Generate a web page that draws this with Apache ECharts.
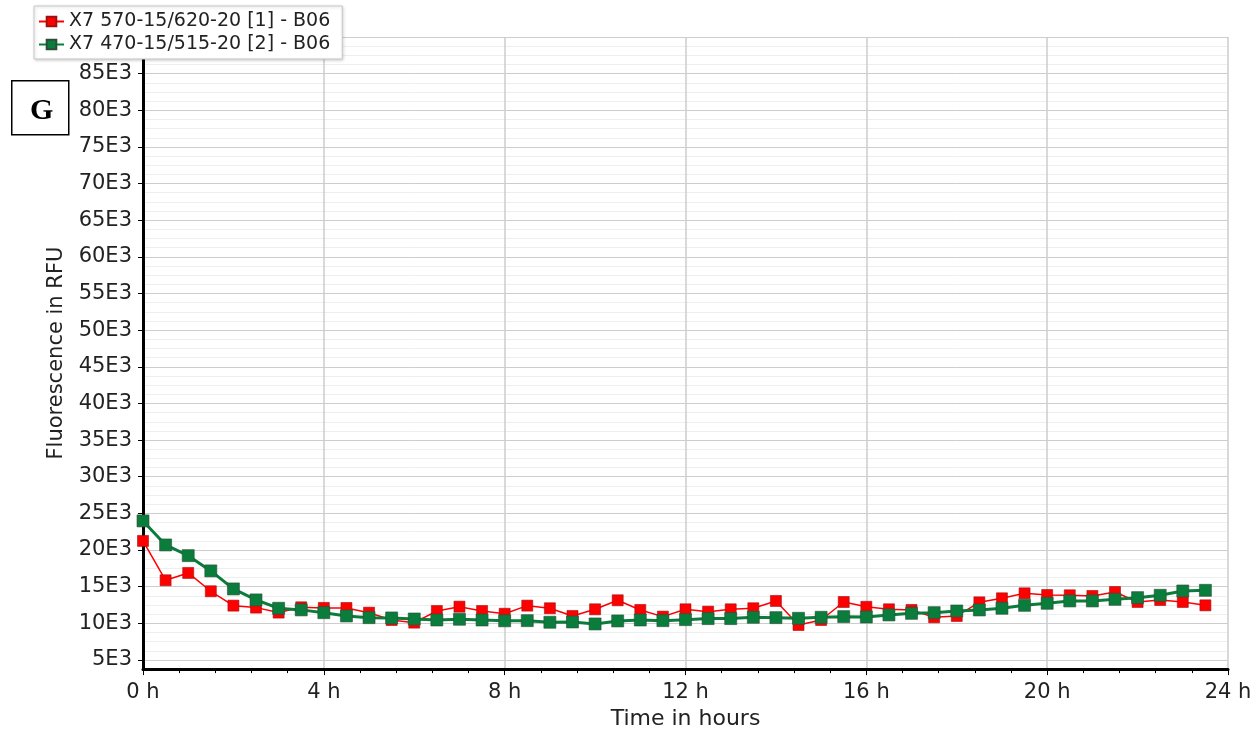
<!DOCTYPE html>
<html>
<head>
<meta charset="utf-8">
<script src="https://cdn.jsdelivr.net/npm/echarts@6/dist/echarts.min.js"></script>
<style>
html,body{margin:0;padding:0;background:#fff;}
#chart{width:1258px;height:735px;}
</style>
</head>
<body>
<div id="chart"></div>
<script>
// Time points (hours)
const hours = [0,0.5,1,1.5,2,2.5,3,3.5,4,4.5,5,5.5,6,6.5,7,7.5,8,8.5,9,9.5,10,10.5,11,11.5,
               12,12.5,13,13.5,14,14.5,15,15.5,16,16.5,17,17.5,18,18.5,19,19.5,20,20.5,21,21.5,22,22.5,23,23.5];
// X7 570-15/620-20 [1] - B06 (red)
const redValues = [21240,15870,16870,14370,12410,12140,11460,12180,12100,12090,11450,10450,10090,11680,12270,11680,
                   11300,12410,12050,11000,11910,13140,11820,10910,11910,11590,11910,12050,13050,9770,10450,12910,
                   12250,11910,11820,10820,11000,12860,13410,14090,13860,13820,13730,14270,12910,13180,12910,12450];
// X7 470-15/515-20 [2] - B06 (green)
const greenValues = [23970,20690,19230,17150,14690,13190,12050,11830,11450,11000,10770,10730,10590,10450,10550,10450,
                     10340,10360,10140,10180,9910,10320,10450,10360,10500,10640,10640,10820,10770,10680,10820,10910,
                     10860,11140,11360,11450,11680,11820,12050,12450,12730,13050,13050,13270,13500,13820,14410,14500];
const seriesNames = ['X7 570-15/620-20 [1] - B06', 'X7 470-15/515-20 [2] - B06'];
const yTickValues = [5000,10000,15000,20000,25000,30000,35000,40000,45000,50000,55000,60000,65000,70000,75000,80000,85000];

const FONT = 'DejaVu Sans';
const chart = echarts.init(document.getElementById('chart'), null, {renderer: 'canvas'});

function pairs(vals) { return hours.map((h, i) => [h, vals[i]]); }

const option = {
  animation: false,
  backgroundColor: '#ffffff',
  grid: {left: 143, right: 30, top: 37, bottom: 62, containLabel: false},
  legend: {
    orient: 'vertical',
    left: 34, top: 6,
    padding: [5, 12, 4, 4],
    itemGap: 2,
    itemWidth: 25, itemHeight: 12,
    backgroundColor: '#ffffff',
    borderColor: '#c8c8c8', borderWidth: 1,
    shadowBlur: 3, shadowColor: 'rgba(0,0,0,0.18)', shadowOffsetX: 1, shadowOffsetY: 1,
    textStyle: {fontFamily: FONT, fontSize: 19, color: '#222', lineHeight: 21},
    data: seriesNames
  },
  xAxis: {
    type: 'value', min: 0, max: 24, interval: 4,
    name: 'Time in hours', nameLocation: 'middle', nameGap: 37,
    nameTextStyle: {fontFamily: FONT, fontSize: 22, color: '#222'},
    axisLine: {show: true, onZero: false, lineStyle: {color: '#000', width: 3}},
    axisTick: {show: true, length: 6, lineStyle: {color: '#000', width: 1}},
    minorTick: {show: true, splitNumber: 5, length: 4, lineStyle: {color: '#000', width: 1}},
    axisLabel: {fontFamily: FONT, fontSize: 21, color: '#222', margin: 13, formatter: '{value} h'},
    splitLine: {show: true, lineStyle: {color: '#cdcdcd', width: 1.5}},
    minorSplitLine: {show: false}
  },
  yAxis: [
    {
      type: 'value', min: 3750, max: 90000, interval: 1250,
      axisLine: {show: true, onZero: false, lineStyle: {color: '#000', width: 3}},
      axisTick: {show: false},
      axisLabel: {show: false},
      splitLine: {show: true, showMinLine: false, lineStyle: {color: ['#cdcdcd', '#eeeeee', '#eeeeee', '#eeeeee'], width: 1}}
    },
    {
      type: 'value', min: 3750, max: 90000, position: 'left',
      name: 'Fluorescence in RFU', nameLocation: 'middle', nameGap: 76,
      nameTextStyle: {fontFamily: FONT, fontSize: 21, color: '#222'},
      axisLine: {show: false},
      axisTick: {show: true, length: 5, customValues: yTickValues, lineStyle: {color: '#000', width: 1}},
      axisLabel: {
        fontFamily: FONT, fontSize: 21, color: '#222', margin: 11,
        customValues: yTickValues,
        formatter: v => (v / 1000) + 'E3'
      },
      splitLine: {show: false}
    }
  ],
  series: [
    {
      name: seriesNames[0], type: 'line', data: pairs(redValues),
      symbol: 'rect', symbolSize: 11, showSymbol: true,
      lineStyle: {color: '#ff0000', width: 1.5},
      itemStyle: {color: '#ff0000', borderColor: '#a01010', borderWidth: 0.6},
      z: 3
    },
    {
      name: seriesNames[1], type: 'line', data: pairs(greenValues),
      symbol: 'rect', symbolSize: 12, showSymbol: true,
      lineStyle: {color: '#0a7d3c', width: 3},
      itemStyle: {color: '#0a7d3c', borderColor: '#2d4d38', borderWidth: 0.6},
      z: 4
    }
  ],
  graphic: [
    {type: 'rect', left: 11, top: 80, z: 100,
     shape: {width: 57, height: 54},
     style: {fill: '#fff', stroke: '#000', lineWidth: 1.5}},
    {type: 'text', left: 30, top: 96, z: 101,
     style: {text: 'G', fontFamily: 'Liberation Serif', fontWeight: 'bold', fontSize: 30, fill: '#000'}}
  ]
};
chart.setOption(option);
</script>
</body>
</html>
